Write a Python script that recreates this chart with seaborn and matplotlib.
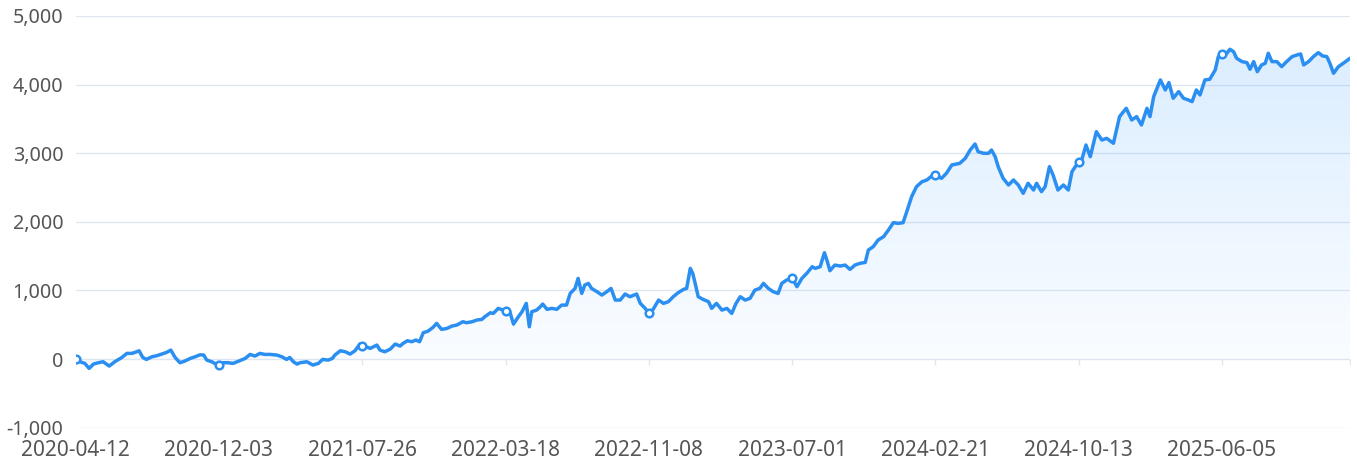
import matplotlib
matplotlib.use("Agg")
import matplotlib.dates as mdates
import matplotlib.pyplot as plt
import matplotlib.ticker as mticker
import numpy as np
import pandas as pd
import seaborn as sns

START = "2020-04-12"
END_DAY = 2090

# days after START, and the value at that day
day = [
    0, 7, 15, 22, 29, 37, 45, 55, 64, 75, 84, 92, 97, 104, 110, 116, 125, 133, 141, 149,
    156, 163, 171, 179, 188, 196, 204, 210, 215, 223, 228, 235, 242, 250, 258, 269, 278, 286, 294, 302,
    310, 319, 330, 338, 346, 351, 357, 363,
    368, 379, 389, 398, 405, 414, 421, 425, 434, 442, 450, 458, 466, 470, 475, 483, 494, 499, 507, 516,
    524, 532, 537, 544, 551, 558, 564, 570, 578, 586, 592, 600, 609, 617, 625, 635, 641, 650, 658, 666,
    671, 680, 685, 693, 701, 705, 712, 718, 726, 732, 739, 744, 748, 756, 762,
    766, 773, 781, 789, 797, 805, 811, 819, 824, 830, 835, 841, 846, 855, 863, 871, 878, 885, 893, 901,
    909, 920, 926, 934, 940, 947, 956, 964, 972, 980, 988, 997, 1002, 1008, 1012, 1016, 1021, 1029, 1038, 1043,
    1051, 1060, 1068, 1076, 1083, 1090, 1098, 1106, 1114, 1122, 1128, 1136,
    1144, 1152, 1158, 1166, 1175, 1183, 1191, 1199, 1208, 1213, 1221, 1228, 1232, 1237, 1245, 1254, 1262, 1270, 1278, 1286,
    1295, 1300, 1308, 1316, 1325, 1333, 1341, 1349, 1357, 1363, 1371, 1379, 1388, 1396, 1404, 1410, 1420, 1428, 1437, 1445,
    1450,
    1459, 1467, 1475, 1480, 1489, 1497, 1502, 1508, 1513, 1521, 1530, 1538, 1546, 1554, 1562, 1571, 1576, 1584, 1590, 1597,
    1603, 1611, 1620, 1628, 1634, 1645, 1650, 1657, 1664, 1674, 1683, 1691, 1702,
    1712, 1723, 1732, 1740, 1748, 1757, 1762, 1768, 1779, 1787, 1793, 1800, 1809, 1817, 1825, 1831, 1838, 1844, 1852, 1860,
    1869, 1874, 1880, 1888, 1893, 1899, 1904, 1913, 1921, 1926, 1932, 1938, 1945, 1951, 1956, 1962, 1970, 1978, 1986, 1995,
    2003, 2009, 2014, 2022, 2030, 2038, 2045, 2052, 2057, 2063, 2071, 2079, 2090,
]
value = [
    0, -39, -63, -136, -73, -53, -39, -102, -39, 19, 83, 83, 97, 121, 24, -5, 34, 49, 73, 97,
    131, 24, -53, -29, 10, 34, 63, 58, -15, -39, -63, -87, -53, -53, -63, -24, 10, 68, 44, 83,
    68, 68, 58, 34, -5, 24, -39, -73,
    -53, -39, -87, -63, -5, -15, 10, 58, 121, 107, 73, 121, 219, 195, 185, 156, 204, 131, 107, 146,
    219, 190, 229, 267, 253, 277, 253, 384, 408, 462, 520, 433, 447, 481, 496, 544, 530, 544, 569, 578,
    617, 675, 666, 739, 714, 700, 690, 510, 617, 690, 812, 471, 690, 714, 763,
    802, 725, 739, 725, 787, 787, 957, 1030, 1176, 957, 1079, 1103, 1030, 982, 933, 982, 1030, 860, 860, 948,
    909, 948, 812, 739, 666, 724, 860, 812, 836, 909, 967, 1016, 1030, 1322, 1249, 1103, 909, 870, 836, 739,
    812, 714, 739, 666, 812, 909, 860, 885, 1006, 1030, 1103, 1030,
    982, 957, 1103, 1152, 1176, 1055, 1176, 1249, 1346, 1322, 1346, 1550, 1443, 1288, 1370, 1356, 1370, 1307, 1370, 1395,
    1409, 1589, 1638, 1735, 1784, 1881, 1988, 1978, 1988, 2148, 2367, 2513, 2585, 2610, 2668, 2683, 2634, 2707, 2829, 2843,
    2853,
    2926, 3047, 3135, 3023, 2999, 2999, 3047, 2950, 2804, 2635, 2537, 2610, 2537, 2416, 2562, 2464, 2562, 2440, 2513, 2804,
    2683, 2464, 2537, 2464, 2731, 2877, 2901, 3120, 2950, 3314, 3193, 3217, 3145,
    3533, 3655, 3485, 3533, 3412, 3655, 3533, 3825, 4068, 3922, 4029, 3801, 3898, 3801, 3776, 3752, 3922, 3849, 4068, 4078,
    4214, 4408, 4447, 4457, 4515, 4481, 4384, 4335, 4320, 4224, 4335, 4189, 4287, 4311, 4457, 4335, 4335, 4262, 4335, 4408,
    4432, 4447, 4287, 4335, 4408, 4466, 4418, 4408, 4311, 4165, 4262, 4311, 4384,
]

tick_labels = [
    "2020-04-12", "2020-12-03", "2021-07-26", "2022-03-18", "2022-11-08",
    "2023-07-01", "2024-02-21", "2024-10-13", "2025-06-05",
]
y_ticks = [-1000, 0, 1000, 2000, 3000, 4000, 5000]

LINE = "#2B8FF2"
GRID = "#E0E6F1"
TEXT = "#555555"

sns.set_theme(style="white")
plt.rcParams["font.family"] = ["Noto Sans", "DejaVu Sans"]
plt.rcParams["axes.unicode_minus"] = False

start = pd.Timestamp(START)
df = pd.DataFrame({"date": start + pd.to_timedelta(day, unit="D"), "value": value})
tick_dates = pd.to_datetime(tick_labels)
end = start + pd.Timedelta(days=END_DAY)

fig = plt.figure(figsize=(13.57, 4.66), dpi=100)
ax = fig.add_axes([75.7 / 1357, 1 - 427.7 / 466, (1350 - 75.7) / 1357, (427.7 - 16) / 466])

# gradient area under the curve
area = ax.fill_between(df["date"], df["value"], 0, color="none", lw=0)
top, bottom = max(value), min(min(value), 0)
grad = np.zeros((256, 1, 4))
grad[..., 0] = 30 / 255
grad[..., 1] = 144 / 255
grad[..., 2] = 1.0
grad[..., 3] = np.linspace(0.16, 0.02, 256)[:, None]
x0, x1 = mdates.date2num(df["date"].iloc[0]), mdates.date2num(df["date"].iloc[-1])
im = ax.imshow(grad, aspect="auto", extent=[x0, x1, bottom, top], origin="upper", zorder=1)
im.set_clip_path(area.get_paths()[0], transform=ax.transData)

sns.lineplot(data=df, x="date", y="value", color=LINE, linewidth=2.5, ax=ax, zorder=3)

# hollow symbols on the labelled dates
marks = df[df["date"].isin(tick_dates)]
sns.scatterplot(data=marks, x="date", y="value", marker="o", s=30, facecolor="white",
                edgecolor=LINE, linewidth=1.8, ax=ax, zorder=4)

# axis line sits on zero, with small ticks hanging below it
ax.plot(list(tick_dates) + [end], [0] * (len(tick_dates) + 1), linestyle="none",
        marker=3, markersize=4.5, markeredgewidth=1, color=GRID, zorder=0)

ax.set_xlim(start, end)
ax.set_ylim(-1000, 5000)
ax.set_yticks(y_ticks)
ax.yaxis.set_major_formatter(mticker.StrMethodFormatter("{x:,.0f}"))
ax.set_xticks(tick_dates)
ax.set_xticklabels(tick_labels)
ax.yaxis.grid(True, color=GRID, linewidth=1)
ax.xaxis.grid(False)
for s in ax.spines.values():
    s.set_visible(False)
ax.tick_params(axis="y", length=0, pad=9, labelsize=14.2, labelcolor=TEXT)
ax.tick_params(axis="x", length=0, pad=9, labelsize=15, labelcolor=TEXT)
ax.set_xlabel("")
ax.set_ylabel("")

fig.savefig("out.png", dpi=100)
